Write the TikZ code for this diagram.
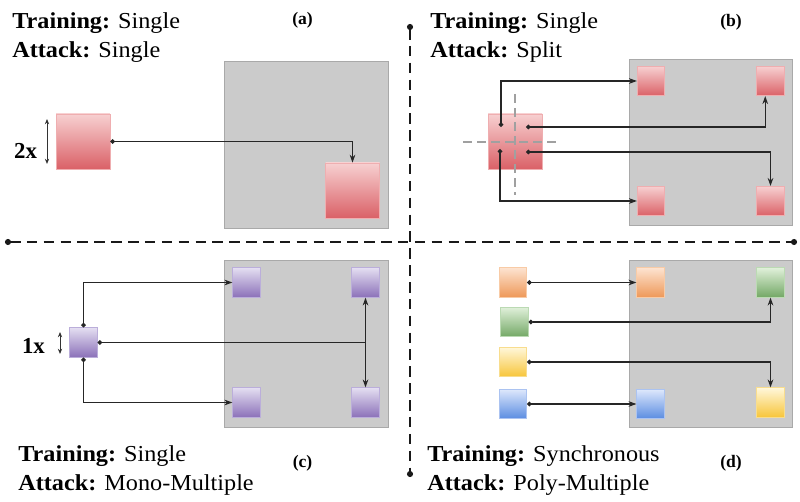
\documentclass[tikz,border=0pt]{standalone}
\usepackage{fontspec}
\setmainfont{Liberation Serif}
\usepackage{xcolor}
\usepackage{tikz}
\usetikzlibrary{arrows.meta, positioning, calc}

\definecolor{boxgray}{HTML}{CBCBCB}
\definecolor{boxline}{HTML}{A9A9A9}
\definecolor{cutgray}{HTML}{A0A0A0}
\definecolor{redtop}{HTML}{F7D0D1}    \definecolor{redbot}{HTML}{DA6167}    \definecolor{redline}{HTML}{EFAEB0}
\definecolor{purtop}{HTML}{E4DEF1}    \definecolor{purbot}{HTML}{8B71B9}    \definecolor{purline}{HTML}{BBAEDA}
\definecolor{oratop}{HTML}{FDE3D0}    \definecolor{orabot}{HTML}{EE9858}    \definecolor{oraline}{HTML}{F8CBA6}
\definecolor{gretop}{HTML}{E0F0DA}    \definecolor{grebot}{HTML}{73A865}    \definecolor{greline}{HTML}{BBDAB3}
\definecolor{yeltop}{HTML}{FFF7DA}    \definecolor{yelbot}{HTML}{F7C53A}    \definecolor{yelline}{HTML}{F8DD8E}
\definecolor{blutop}{HTML}{DEE8FC}    \definecolor{blubot}{HTML}{5A8CE1}    \definecolor{bluline}{HTML}{ABC3F1}

\begin{document}
\begin{tikzpicture}[
  x=0.02cm, y=-0.02cm,
  head/.style    = {anchor=base west, inner sep=0pt, xscale=1.06,
                    font=\fontsize{13}{15}\selectfont},
  tag/.style     = {inner sep=0pt, font=\fontsize{10}{12}\selectfont\bfseries},
  size/.style    = {inner sep=0pt, font=\fontsize{13}{15}\selectfont\bfseries},
  board/.style   = {draw=boxline, fill=boxgray, line width=0.5pt,
                    minimum width=3.27cm, minimum height=3.34cm},
  bigsq/.style   = {draw, shading=axis, line width=0.4pt, inner sep=0pt,
                    minimum width=1.08cm, minimum height=1.1cm},
  smallsq/.style = {draw, shading=axis, line width=0.4pt, inner sep=0pt,
                    minimum width=0.55cm, minimum height=0.59cm},
  sqred/.style    = {top color=redtop, bottom color=redbot, draw=redline},
  sqpurple/.style = {top color=purtop, bottom color=purbot, draw=purline},
  sqorange/.style = {top color=oratop, bottom color=orabot, draw=oraline},
  sqgreen/.style  = {top color=gretop, bottom color=grebot, draw=greline},
  sqyellow/.style = {top color=yeltop, bottom color=yelbot, draw=yelline},
  sqblue/.style   = {top color=blutop, bottom color=blubot, draw=bluline},
  link/.style    = {{Circle[length=2.6pt]}-{Stealth[length=4.5pt, width=3.2pt]},
                    line width=0.6pt, draw=black!85},
  stub/.style    = {{Circle[length=2.6pt]}-, line width=0.6pt, draw=black!85},
  twin/.style    = {{Stealth[length=4.5pt, width=3.2pt]}-{Stealth[length=4.5pt, width=3.2pt]},
                    line width=0.6pt, draw=black!85},
  span/.style    = {{Stealth[length=3pt, width=2.4pt]}-{Stealth[length=3pt, width=2.4pt]},
                    line width=0.5pt, draw=black!80},
  divider/.style = {{Circle[length=3.4pt]}-{Circle[length=3.4pt]}, line width=1.1pt,
                    draw=black!90, dash pattern=on 6pt off 3.6pt},
  cut/.style     = {line width=0.8pt, draw=cutgray, dash pattern=on 5pt off 3pt}
]

% ── Dividers ─────────────────────────────────────────────────────────────────
\coordinate (hl) at (5,242);
\coordinate (hr) at (797,242);
\coordinate (vt) at (410,24);
\coordinate (vb) at (410,477);
\draw[divider] (hl) -- (hr);
\draw[divider] (vt) -- (vb);

% ── Panel (a) ────────────────────────────────────────────────────────────────
\node[head] (atrain)  at (12,29) {\textbf{Training:} Single};
\node[head] (aattack) at (12,58) {\textbf{Attack:} Single};
\node[tag]  (atag)    at (302.5,20) {(a)};
\node[board] (aboard) at (306.5,144.5) {};
\node[bigsq, sqred] (asrc) at (83,141.5) {};
\node[bigsq, sqred] (atgt) at (352.5,190.5) {};
\node[size] (asize) at (25.5,151) {2x};
\coordinate (aup) at (47,119);
\coordinate (adn) at (47,164);
\draw[span] (aup) -- (adn);
\draw[link] (asrc.east) -| (atgt.north);

% ── Panel (b) ────────────────────────────────────────────────────────────────
\node[head] (btrain)  at (430,29) {\textbf{Training:} Single};
\node[head] (battack) at (430,58) {\textbf{Attack:} Split};
\node[tag]  (btag)    at (731,22) {(b)};
\node[board, minimum height=3.32cm] (bboard) at (711,142) {};
\node[bigsq, sqred] (bsrc) at (515,141.5) {};
\node[smallsq, sqred] (btl) at (651,81) {};
\node[smallsq, sqred] (btr) at (770.5,81) {};
\node[smallsq, sqred] (bbl) at (651,201) {};
\node[smallsq, sqred] (bbr) at (770.5,201) {};
\coordinate (cutn) at (515,94);
\coordinate (cuts) at (515,195);
\coordinate (cutw) at (463,142);
\coordinate (cute) at (560,142);
\draw[cut] (cutn) -- (cuts);
\draw[cut] (cutw) -- (cute);
\coordinate (q1) at (501,127);
\coordinate (q2) at (526,127);
\coordinate (q3) at (526,152);
\coordinate (q4) at (500,149);
\draw[link] (q1) |- (btl.west);
\draw[link] (q2) -| ([xshift=-3]btr.south);
\draw[link] (q3) -| (bbr.north);
\draw[link] (q4) |- (bbl.west);

% ── Panel (c) ────────────────────────────────────────────────────────────────
\node[head] (ctrain)  at (18,461) {\textbf{Training:} Single};
\node[head] (cattack) at (18,490) {\textbf{Attack:} Mono-Multiple};
\node[tag]  (ctag)    at (302.5,463) {(c)};
\node[board] (cboard) at (306.5,343.5) {};
\node[smallsq, sqpurple] (csrc) at (83.5,342.5) {};
\node[smallsq, sqpurple] (ctl) at (246.5,282.5) {};
\node[smallsq, sqpurple] (ctr) at (365.5,282.5) {};
\node[smallsq, sqpurple] (cbl) at (246.5,402.5) {};
\node[smallsq, sqpurple] (cbr) at (365.5,402.5) {};
\node[size] (csize) at (33.5,346) {1x};
\coordinate (cup) at (60,332);
\coordinate (cdn) at (60,354);
\draw[span] (cup) -- (cdn);
\draw[link] (csrc.north) |- (ctl.west);
\draw[link] (csrc.south) |- (cbl.west);
\draw[stub] (csrc.east) -- (csrc.east -| ctr.south);
\draw[twin] (ctr.south) -- (cbr.north);

% ── Panel (d) ────────────────────────────────────────────────────────────────
\node[head] (dtrain)  at (427,461) {\textbf{Training:} Synchronous};
\node[head] (dattack) at (427,490) {\textbf{Attack:} Poly-Multiple};
\node[tag]  (dtag)    at (731,463) {(d)};
\node[board] (dboard) at (711,343.5) {};
\node[smallsq, sqorange] (dor) at (513,282.5) {};
\node[smallsq, sqgreen]  (dgr) at (514.5,322) {};
\node[smallsq, sqyellow] (dye) at (513,362) {};
\node[smallsq, sqblue]   (dbl) at (513,404) {};
\node[smallsq, sqorange] (dtl) at (650.5,282.5) {};
\node[smallsq, sqgreen]  (dtr) at (770.5,282.5) {};
\node[smallsq, sqblue]   (dbb) at (650.5,404) {};
\node[smallsq, sqyellow] (dbr) at (770.5,402.5) {};
\draw[link] (dor.east) -- (dtl.west);
\draw[link] (dgr.east) -| (dtr.south);
\draw[link] (dye.east) -| (dbr.north);
\draw[link] (dbl.east) -- (dbb.west);

\useasboundingbox (0,0) rectangle (800,502);
\end{tikzpicture}
\end{document}
